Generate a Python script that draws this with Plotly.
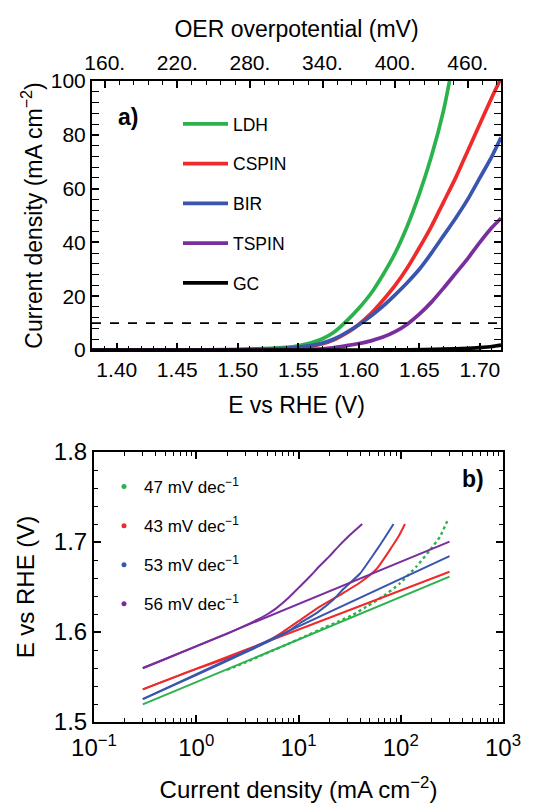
import plotly.graph_objects as go

# ---------------- panel a: polarisation curves ----------------
E_MIN, E_MAX = 1.3795, 1.7175          # V vs RHE
E_EQ = 1.23                             # V, OER equilibrium potential
J_REF = 10                              # mA cm-2 benchmark

ldh_E = [1.3795, 1.45, 1.50, 1.52, 1.54, 1.55, 1.56, 1.57, 1.58, 1.59, 1.60,
         1.61, 1.62, 1.63, 1.64, 1.65, 1.66, 1.67, 1.675]
ldh_j = [0, 0.05, 0.2, 0.5, 1.0, 1.6, 2.6, 4.2, 6.8, 10.8, 15.5,
         21, 28, 36, 46, 58, 72, 89, 100]

cspin_E = [1.3795, 1.50, 1.54, 1.56, 1.57, 1.58, 1.59, 1.60, 1.61, 1.62, 1.63,
           1.64, 1.65, 1.66, 1.67, 1.68, 1.69, 1.70, 1.71, 1.7175]
cspin_j = [0, 0.1, 0.5, 1.3, 2.3, 3.9, 6.3, 9.5, 13.5, 18.5, 24,
           30.5, 38, 46, 55, 64, 74, 84, 94, 101]

bir_E = [1.3795, 1.50, 1.54, 1.56, 1.57, 1.58, 1.59, 1.60, 1.61, 1.62, 1.63,
         1.64, 1.65, 1.66, 1.67, 1.68, 1.69, 1.70, 1.71, 1.7175]
bir_j = [0, 0.1, 0.6, 1.6, 2.6, 4.2, 6.6, 9.4, 12.6, 16.3, 20.5,
         25, 30, 36, 42.5, 49, 56, 64, 72, 79]

tspin_E = [1.3795, 1.55, 1.57, 1.58, 1.59, 1.60, 1.61, 1.62, 1.63, 1.64, 1.65,
           1.66, 1.67, 1.68, 1.69, 1.70, 1.71, 1.7175]
tspin_j = [0, 0.05, 0.4, 0.9, 1.6, 2.4, 3.4, 4.8, 6.8, 9.6, 13.3,
           17.8, 23, 28.5, 34, 40, 45.5, 49]

gc_E = [1.3795, 1.60, 1.64, 1.67, 1.69, 1.70, 1.71, 1.7175]
gc_j = [0, 0, 0.1, 0.3, 0.6, 0.9, 1.3, 1.8]

overpot_ticks = [160, 220, 280, 340, 400, 460]
overpot_text = ["160.", "220.", "280.", "340.", "400.", "460."]

# ---------------- panel b: Tafel plots ----------------
# measured E vs log(j)
ldh_tj = [2, 3, 5, 8, 12, 18, 25, 34, 46, 68, 98, 143, 193, 242, 292]
ldh_tE = [1.558, 1.566, 1.577, 1.587, 1.596, 1.605, 1.612, 1.619, 1.628,
          1.640, 1.654, 1.673, 1.691, 1.706, 1.726]

cspin_tj = [0.3, 1, 3, 5, 7, 10, 16, 27, 40, 58, 78, 95, 110]
cspin_tE = [1.5363, 1.559, 1.578, 1.590, 1.600, 1.612, 1.628, 1.643, 1.655,
            1.670, 1.691, 1.706, 1.720]

bir_tj = [0.3, 1, 3, 5, 8, 10.4, 15, 22, 27, 40, 58, 70, 85]
bir_tE = [1.5255, 1.552, 1.577, 1.589, 1.601, 1.610, 1.621, 1.636, 1.647,
          1.665, 1.691, 1.705, 1.720]

tspin_tj = [0.3, 0.5, 1, 2, 3, 4, 5, 6, 8, 10, 13, 16, 20, 25, 32, 42]
tspin_tE = [1.560, 1.570, 1.584, 1.598, 1.607, 1.614, 1.620, 1.626, 1.638,
            1.649, 1.662, 1.673, 1.684, 1.696, 1.708, 1.720]

# linear Tafel fits, evaluated at the ends of the fitted range
fit_j = [0.3, 300]
ldh_fitE = [1.5196, 1.6615]
cspin_fitE = [1.5363, 1.6670]
bir_fitE = [1.5255, 1.6844]
tspin_fitE = [1.5597, 1.7004]

tafel_labels = ["47 mV dec<sup>\u22121</sup>", "43 mV dec<sup>\u22121</sup>",
                "53 mV dec<sup>\u22121</sup>", "56 mV dec<sup>\u22121</sup>"]

log_tickvals = [0.1, 1, 10, 100, 1000]
log_ticktext = ["10<sup>\u22121</sup>", "10<sup>0</sup>", "10<sup>1</sup>",
                "10<sup>2</sup>", "10<sup>3</sup>"]

GREEN = "#2bb24c"
RED = "#ee2a2a"
BLUE = "#3a55ad"
PURPLE = "#7a2e9e"
BLACK = "#000000"

FONT = "Liberation Sans, Arial, sans-serif"
W, H = 558, 804

fig = go.Figure()

series_a = [("LDH", ldh_E, ldh_j, GREEN), ("CSPIN", cspin_E, cspin_j, RED),
            ("BIR", bir_E, bir_j, BLUE), ("TSPIN", tspin_E, tspin_j, PURPLE),
            ("GC", gc_E, gc_j, BLACK)]
for i, (name, ex, jy, col) in enumerate(series_a):
    fig.add_trace(go.Scatter(
        x=ex, y=jy, mode="lines", name=name, legend="legend",
        legendgroup=name, legendrank=i,
        line=dict(color=col, width=3.7, shape="spline", smoothing=0.6),
        xaxis="x", yaxis="y"))

# 10 mA cm-2 reference, drawn on the overpotential axis
op_lo = (E_MIN - E_EQ) * 1000
op_hi = (E_MAX - E_EQ) * 1000
fig.add_trace(go.Scatter(
    x=[op_lo, op_hi], y=[J_REF, J_REF], mode="lines", showlegend=False,
    line=dict(color=BLACK, width=1.6, dash="dash"), xaxis="x3", yaxis="y"))

# Tafel data and fits
series_b = [(ldh_tj, ldh_tE, ldh_fitE, GREEN, "dot"),
            (cspin_tj, cspin_tE, cspin_fitE, RED, "solid"),
            (bir_tj, bir_tE, bir_fitE, BLUE, "solid"),
            (tspin_tj, tspin_tE, tspin_fitE, PURPLE, "solid")]
for k, (tj, tE, fE, col, dash) in enumerate(series_b):
    fig.add_trace(go.Scatter(
        x=fit_j, y=fE, mode="lines", showlegend=False,
        line=dict(color=col, width=2), xaxis="x2", yaxis="y2"))
    fig.add_trace(go.Scatter(
        x=tj, y=tE, mode="lines", showlegend=False,
        line=dict(color=col, width=2.4 if dash == "dot" else 2,
                  dash=dash, shape="spline", smoothing=0.5),
        xaxis="x2", yaxis="y2"))
for k, (tj, tE, fE, col, dash) in enumerate(series_b):
    fig.add_trace(go.Scatter(
        x=[None], y=[None], mode="markers", name=tafel_labels[k],
        legend="legend2", legendgroup="b%d" % k, legendrank=k,
        marker=dict(color=col, size=5), xaxis="x2", yaxis="y2"))

# ---------------- layout ----------------
def px_x(p):
    return p / W

def px_y(p):
    return 1 - p / H

frame = dict(showline=True, linecolor=BLACK, linewidth=2, zeroline=False,
             showgrid=False, ticks="inside", tickcolor=BLACK, tickwidth=1.5,
             automargin=False)
minor_style = dict(ticks="inside", ticklen=4, tickcolor=BLACK, tickwidth=1.3)

fig.update_layout(
    width=W, height=H, margin=dict(l=0, r=0, t=0, b=0, autoexpand=False),
    paper_bgcolor="white", plot_bgcolor="white",
    font=dict(family=FONT, color=BLACK),
    xaxis=dict(frame, domain=[px_x(92), px_x(501)], anchor="y",
               range=[E_MIN, E_MAX], mirror=True, ticklen=7,
               tickvals=[1.40, 1.45, 1.50, 1.55, 1.60, 1.65, 1.70],
               ticktext=["1.40", "1.45", "1.50", "1.55", "1.60", "1.65", "1.70"],
               minor=dict(minor_style, dtick=0.01, tick0=1.40),
               tickfont=dict(size=21),
               title=dict(text="E vs RHE (V)", font=dict(size=23), standoff=17)),
    xaxis3=dict(frame, overlaying="x", side="top", anchor="y",
                range=[op_lo, op_hi], showline=False, ticklen=7,
                tickvals=overpot_ticks, ticktext=overpot_text,
                ticklabelstandoff=6,
                minor=dict(minor_style, dtick=12, tick0=160),
                tickfont=dict(size=21),
                title=dict(text="OER overpotential (mV)", font=dict(size=23),
                           standoff=6)),
    yaxis=dict(frame, domain=[px_y(350), px_y(81)], anchor="x",
               range=[0, 100], dtick=20, mirror="allticks", ticklen=7,
               minor=dict(minor_style, dtick=4),
               tickfont=dict(size=21),
               title=dict(text="Current density (mA cm<sup>\u22122</sup>)",
                          font=dict(size=23), standoff=2)),
    xaxis2=dict(frame, domain=[px_x(94), px_x(503)], anchor="y2",
                type="log", range=[-1, 3], mirror="allticks", ticklen=7,
                tickvals=log_tickvals, ticktext=log_ticktext,
                ticklabelstandoff=3,
                minor=dict(minor_style, dtick="D1"),
                tickfont=dict(size=24),
                title=dict(text="Current density (mA cm<sup>\u22122</sup>)",
                           font=dict(size=24), standoff=21)),
    yaxis2=dict(frame, domain=[px_y(722), px_y(452)], anchor="x2",
                range=[1.5, 1.8], dtick=0.1, tickformat=".1f",
                mirror="allticks", ticklen=7,
                minor=dict(minor_style, dtick=0.02),
                tickfont=dict(size=24),
                title=dict(text="E vs RHE (V)", font=dict(size=24), standoff=12)),
    legend=dict(x=px_x(178), y=px_y(106), xanchor="left", yanchor="top",
                bgcolor="rgba(0,0,0,0)", itemwidth=45, tracegroupgap=14,
                traceorder="grouped", font=dict(size=17.5)),
    legend2=dict(x=px_x(104), y=px_y(469), xanchor="left", yanchor="top",
                 bgcolor="rgba(0,0,0,0)", tracegroupgap=14,
                 traceorder="grouped", font=dict(size=17)),
    annotations=[
        dict(text="<b>a)</b>", x=px_x(116), y=px_y(117), xref="paper",
             yref="paper", showarrow=False, font=dict(size=23),
             xanchor="left", yanchor="middle"),
        dict(text="<b>b)</b>", x=px_x(486), y=px_y(479), xref="paper",
             yref="paper", showarrow=False, font=dict(size=23),
             xanchor="right", yanchor="middle"),
    ],
)

fig.write_html("out.html")
